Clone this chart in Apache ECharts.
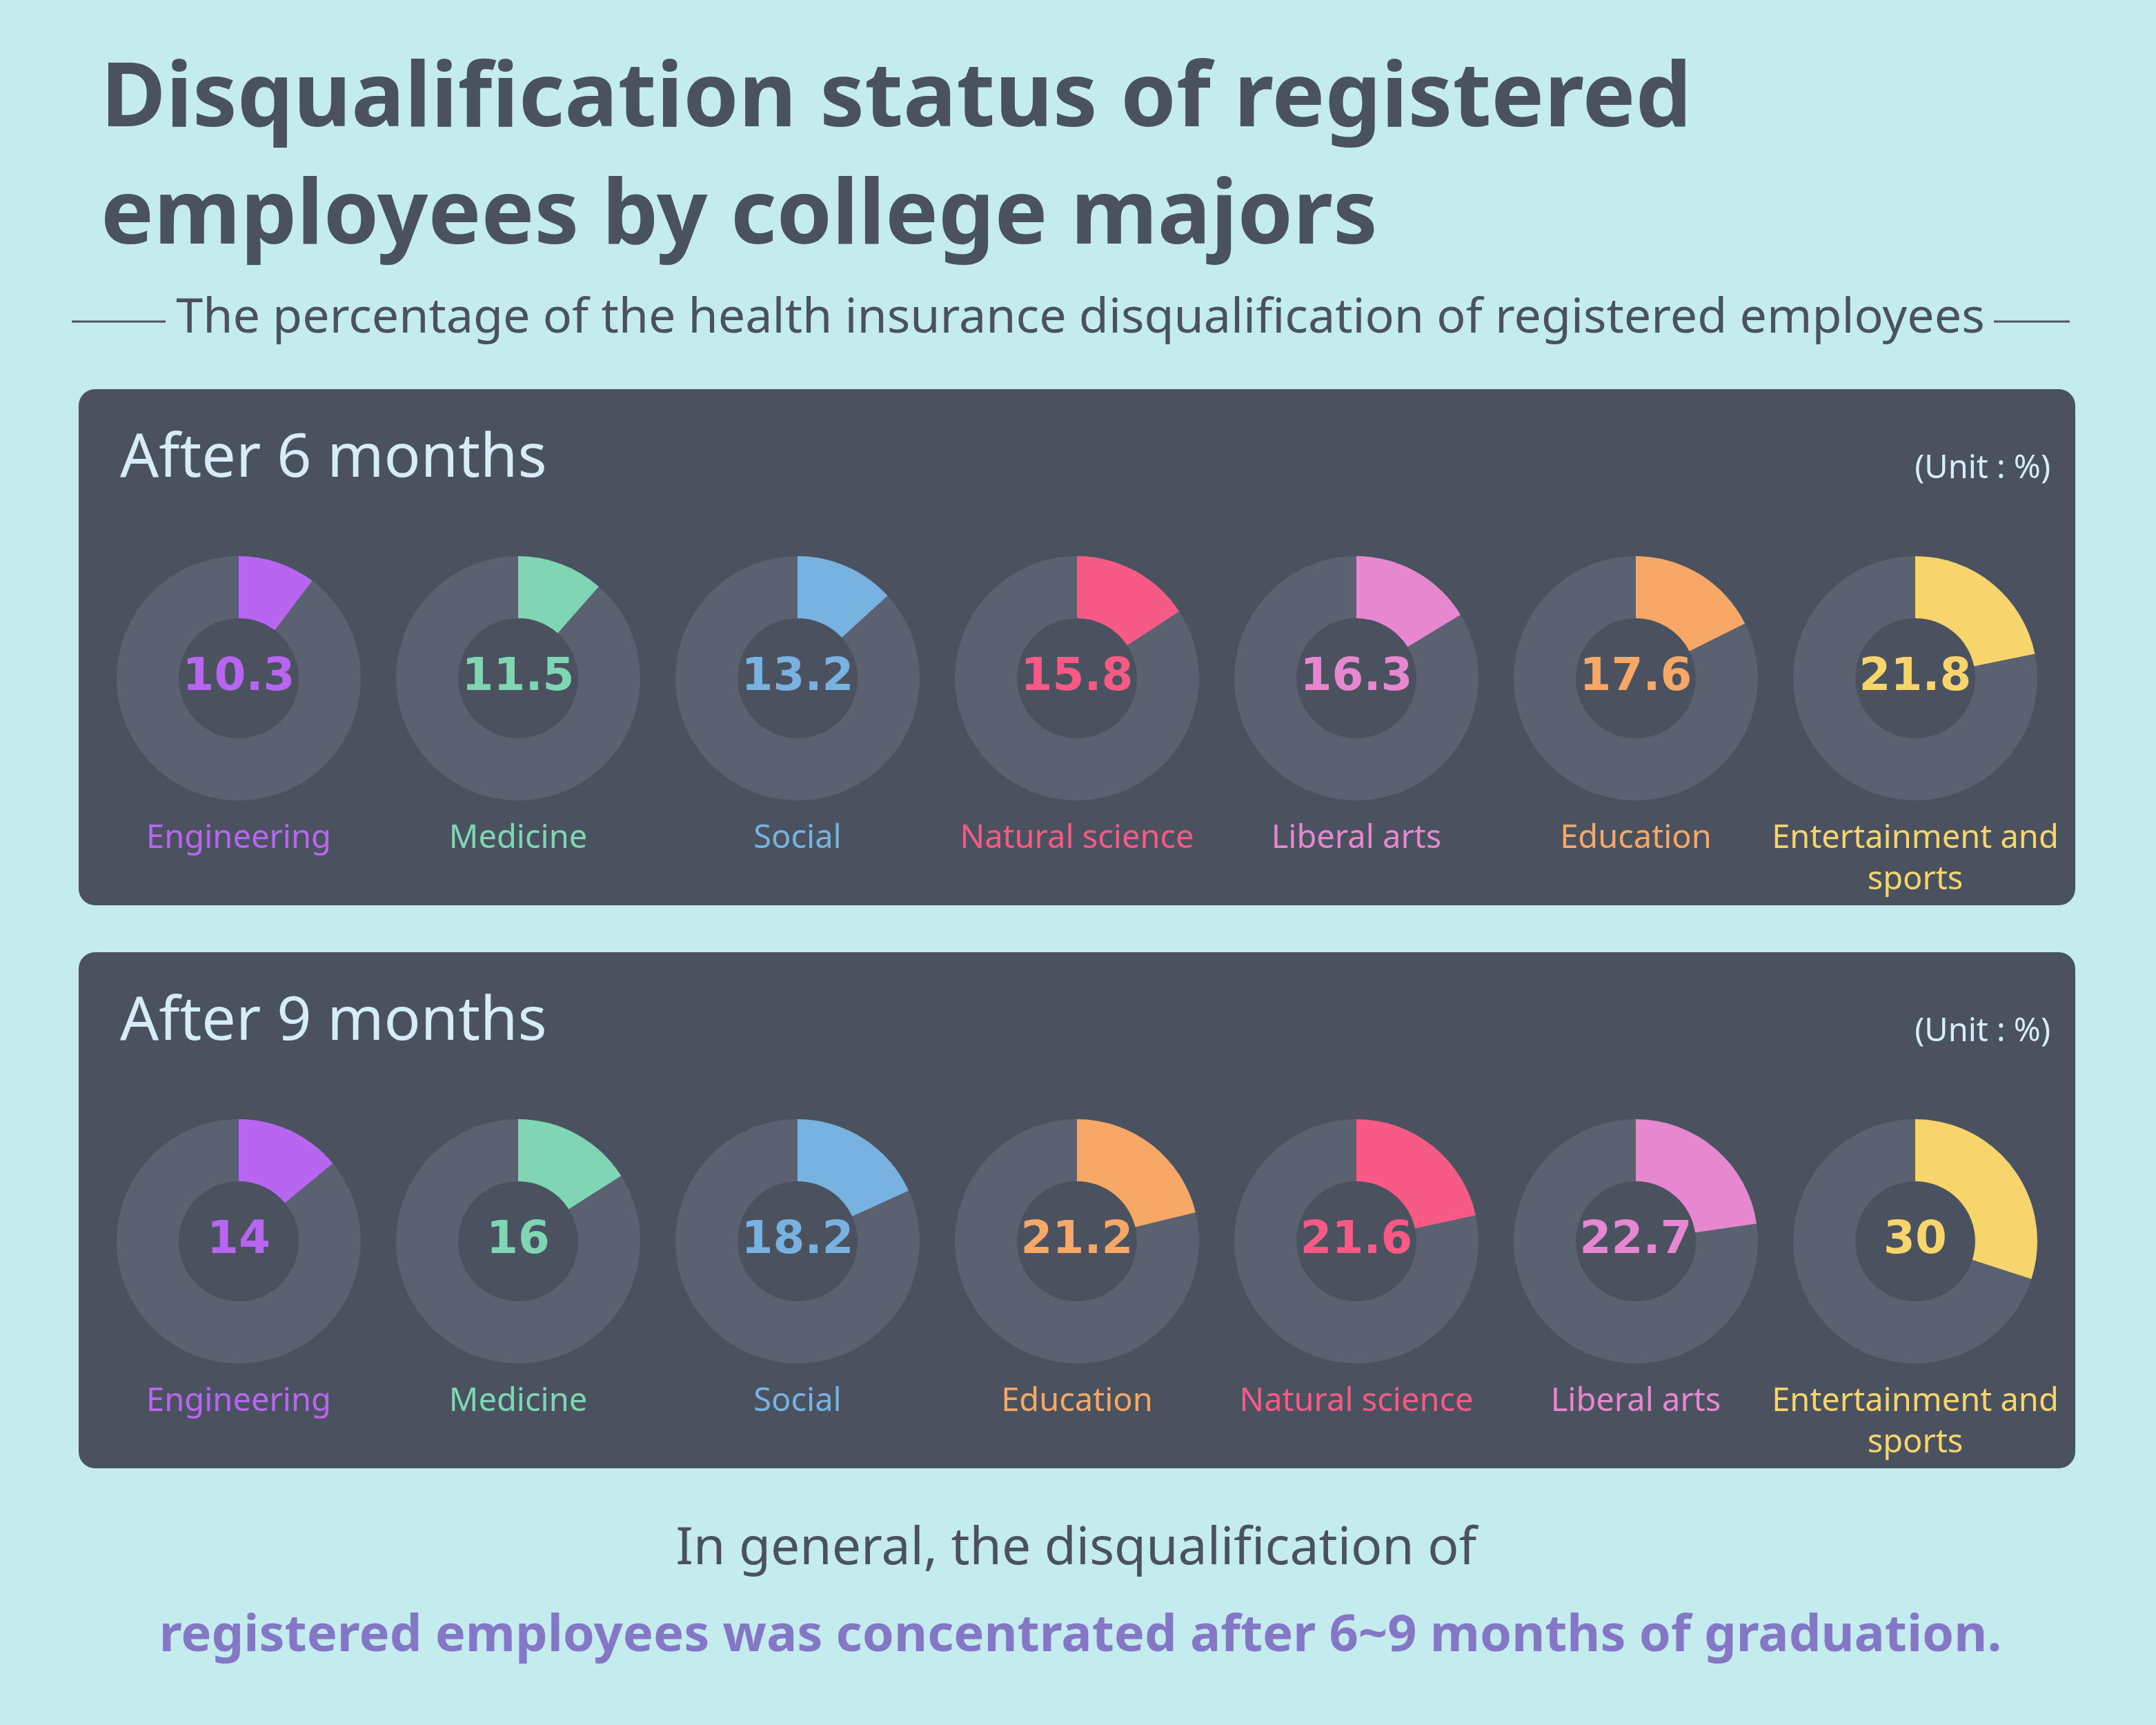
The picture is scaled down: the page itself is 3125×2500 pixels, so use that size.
<!DOCTYPE html>
<html>
<head>
<meta charset="utf-8">
<script src="https://cdn.jsdelivr.net/npm/echarts@6/dist/echarts.min.js"></script>
<style>
  html, body { margin: 0; padding: 0; background: #c4ecee; }
  #chart { width: 3125px; height: 2500px; }
</style>
</head>
<body>
<div id="chart"></div>
<script>
// data
const majors6 = ['Engineering', 'Medicine', 'Social', 'Natural science', 'Liberal arts', 'Education', 'Entertainment and\nsports'];
const values6 = [10.3, 11.5, 13.2, 15.8, 16.3, 17.6, 21.8];
const majors9 = ['Engineering', 'Medicine', 'Social', 'Education', 'Natural science', 'Liberal arts', 'Entertainment and\nsports'];
const values9 = [14, 16, 18.2, 21.2, 21.6, 22.7, 30];
const panelTitles = ['After 6 months', 'After 9 months'];

const majorColors = {
  'Engineering': '#b866f2',
  'Medicine': '#7fd6b4',
  'Social': '#78b2e0',
  'Natural science': '#f65a85',
  'Liberal arts': '#e787cf',
  'Education': '#f7a866',
  'Entertainment and\nsports': '#f8d56c'
};

const bg = '#c4ecee';
const panelBg = '#4a525f';
const ringGray = '#5a6271';
const darkText = '#4a525f';
const lightText = '#d6edf9';

const chart = echarts.init(document.getElementById('chart'));

const firstX = 346, stepX = 405;
const panelTop = [564, 1380];
const ringOffset = 419;   // donut centre below panel top
const labelOffset = 622;  // category label top below panel top

const series = [];
const graphics = [];

graphics.push({ type: 'rect', z: -20, shape: { x: 0, y: 0, width: 3125, height: 2500 }, style: { fill: bg } });

// title
graphics.push({ type: 'text', z: 5, x: 146, y: 146, style: { text: 'Disqualification status of registered', font: 'bold 129px "Noto Sans"', fill: darkText, verticalAlign: 'middle' } });
graphics.push({ type: 'text', z: 5, x: 146, y: 316, style: { text: 'employees by college majors', font: 'bold 129px "Noto Sans"', fill: darkText, verticalAlign: 'middle' } });
graphics.push({ type: 'text', z: 5, x: 1566, y: 462, style: { text: 'The percentage of the health insurance disqualification of registered employees', font: '70px "Noto Sans"', fill: darkText, align: 'center', verticalAlign: 'middle' } });
graphics.push({ type: 'line', z: 5, shape: { x1: 104, y1: 466, x2: 240, y2: 466 }, style: { stroke: darkText, lineWidth: 3 } });
graphics.push({ type: 'line', z: 5, shape: { x1: 2890, y1: 466, x2: 3000, y2: 466 }, style: { stroke: darkText, lineWidth: 3 } });

const panels = [[majors6, values6], [majors9, values9]];
panels.forEach(function (p, pi) {
  const top = panelTop[pi];
  graphics.push({ type: 'rect', z: -10, shape: { x: 114, y: top, width: 2894, height: 748, r: 24 }, style: { fill: panelBg } });
  graphics.push({ type: 'text', z: 5, x: 174, y: top + 102, style: { text: panelTitles[pi], font: '88px "Noto Sans"', fill: lightText, verticalAlign: 'middle' } });
  graphics.push({ type: 'text', z: 5, x: 2972, y: top + 116, style: { text: '(Unit : %)', font: '47px "Noto Sans"', fill: lightText, align: 'right', verticalAlign: 'middle' } });

  const names = p[0], vals = p[1];
  names.forEach(function (name, i) {
    const cx = firstX + i * stepX;
    const col = majorColors[name];
    series.push({
      type: 'pie',
      silent: true,
      animation: false,
      radius: [87, 177],
      center: [cx, top + ringOffset],
      startAngle: 90,
      clockwise: true,
      avoidLabelOverlap: false,
      label: {
        show: true,
        position: 'center',
        formatter: '{c}',
        color: col,
        fontFamily: 'DejaVu Sans',
        fontWeight: 'bold',
        fontSize: 66,
        padding: [22, 0, 0, 0]
      },
      labelLine: { show: false },
      emphasis: { disabled: true },
      data: [
        { name: name, value: vals[i], itemStyle: { color: col } },
        { name: 'rest', value: 100 - vals[i], itemStyle: { color: ringGray }, label: { show: false } }
      ]
    });
    graphics.push({
      type: 'text', z: 5, x: cx, y: top + labelOffset,
      style: { text: name, font: '47px "Noto Sans"', fill: col, align: 'center', verticalAlign: 'top', lineHeight: 60 }
    });
  });
});

// closing note
graphics.push({ type: 'text', z: 5, x: 1560, y: 2246, style: { text: 'In general, the disqualification of', font: '75px "Noto Sans"', fill: darkText, align: 'center', verticalAlign: 'middle' } });
graphics.push({ type: 'text', z: 5, x: 1566, y: 2372, style: { text: 'registered employees was concentrated after 6~9 months of graduation.', font: 'bold 74px "Noto Sans"', fill: '#8478c6', align: 'center', verticalAlign: 'middle' } });

chart.setOption({
  backgroundColor: bg,
  animation: false,
  graphic: { elements: graphics },
  series: series
});
</script>
</body>
</html>
